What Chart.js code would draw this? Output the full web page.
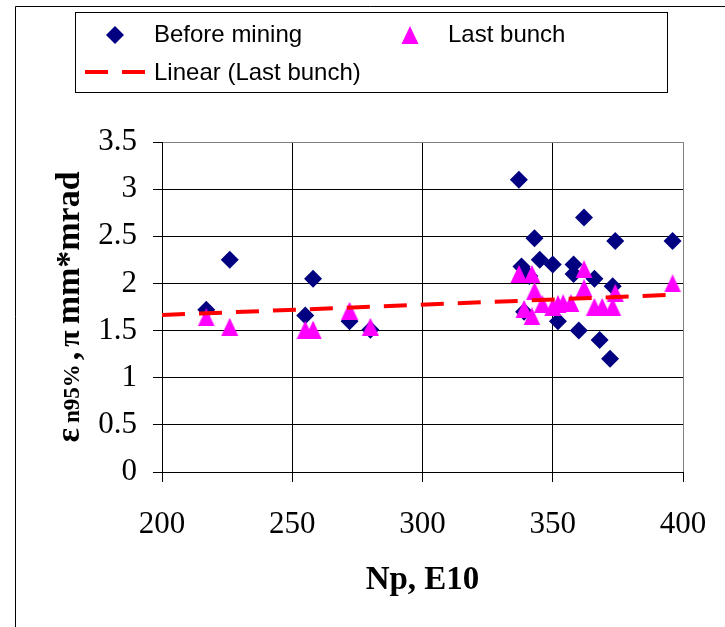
<!DOCTYPE html>
<html><head><meta charset="utf-8">
<script src="https://cdn.jsdelivr.net/npm/chart.js@4.4.1/dist/chart.umd.min.js"></script>
<style>html,body{margin:0;padding:0;background:#fff;overflow:hidden}#wrap{position:relative;width:725px;height:627px}</style>
</head><body><div id="wrap"><canvas id="c" width="725" height="627"></canvas></div>
<script>
// ---- data ----
const seriesNames = ['Before mining', 'Last bunch', 'Linear (Last bunch)'];
const beforeX = [217, 226, 255, 258, 272, 280, 337, 338, 339, 341, 343, 345, 350, 352, 358, 358, 360, 362, 366, 368, 372, 373, 374, 396];
const beforeY = [1.72, 2.25, 1.66, 2.05, 1.60, 1.51, 3.10, 2.18, 1.70, 2.08, 2.48, 2.25, 2.20, 1.60, 2.20, 2.10, 1.50, 2.70, 2.05, 1.40, 1.20, 1.97, 2.45, 2.45];
const lastX = [217, 226, 255, 258, 272, 280, 337, 339, 342, 342, 343, 346, 350, 352, 354, 357, 362, 362, 366, 369, 373, 374, 396];
const lastY = [1.64, 1.54, 1.51, 1.51, 1.71, 1.54, 2.10, 1.73, 2.10, 1.65, 1.92, 1.78, 1.75, 1.78, 1.79, 1.79, 2.15, 1.95, 1.75, 1.75, 1.75, 1.90, 2.00];
const trendX = [200, 396];
const trendY = [1.665, 1.88];
const xTickValues = [200, 250, 300, 350, 400];
const xTickLabels = ['200', '250', '300', '350', '400'];
const yTickValues = [0, 0.5, 1, 1.5, 2, 2.5, 3, 3.5];
const yTickLabels = ['0', '0.5', '1', '1.5', '2', '2.5', '3', '3.5'];
const xTitle = 'Np, E10';
const yTitleParts = ['ε', 'n95%', ',', 'π', 'mm*mrad'];

const pts = (xs, ys) => xs.map((x, i) => ({x: x, y: ys[i]}));
const NAVY = '#000080', MAG = '#FF00FF', RED = '#FF0000';
const SERIF = '"Liberation Serif", "Times New Roman", serif';

// triangle marker sprite (centred on its bounding box, like the reference)
const triSprite = document.createElement('canvas');
triSprite.width = 18; triSprite.height = 18;
(function () {
  const g = triSprite.getContext('2d');
  g.fillStyle = MAG;
  g.beginPath(); g.moveTo(9, 0); g.lineTo(17.5, 18); g.lineTo(0.5, 18); g.closePath(); g.fill();
})();

function drawDiamond(ctx, r, color, x, y) {
  ctx.save();
  ctx.fillStyle = color;
  if (Chart.helpers && Chart.helpers.drawPoint) {
    Chart.helpers.drawPoint(ctx, {pointStyle: 'rectRot', radius: r, borderWidth: 0, rotation: 0}, x, y);
  }
  ctx.restore();
}

const decor = {
  id: 'decor',
  beforeDraw(chart) {
    const ctx = chart.ctx;
    ctx.save();
    ctx.fillStyle = '#fff';
    ctx.fillRect(0, 0, chart.width, chart.height);
    ctx.strokeStyle = '#000';
    ctx.lineWidth = 1;
    ctx.beginPath();
    ctx.moveTo(15.5, 627); ctx.lineTo(15.5, 6.5); ctx.lineTo(725, 6.5);
    ctx.stroke();
    ctx.restore();
  },
  afterDraw(chart) {
    const ctx = chart.ctx;
    const area = chart.chartArea;
    // legend box
    ctx.save();
    ctx.strokeStyle = '#000'; ctx.lineWidth = 1;
    ctx.strokeRect(75.5, 12.5, 592, 80);
    drawDiamond(ctx, 9, NAVY, 115, 35);
    ctx.drawImage(triSprite, 401, 26);
    ctx.strokeStyle = RED; ctx.lineWidth = 4; ctx.setLineDash([23, 14]);
    ctx.beginPath(); ctx.moveTo(85, 72); ctx.lineTo(145, 72); ctx.stroke();
    ctx.setLineDash([]);
    ctx.fillStyle = '#000';
    ctx.font = '24px "Liberation Sans", Arial, sans-serif';
    ctx.textBaseline = 'middle'; ctx.textAlign = 'left';
    ctx.fillText(seriesNames[0], 154, 35);
    ctx.fillText(seriesNames[1], 448, 35);
    ctx.fillText(seriesNames[2], 154, 73);
    ctx.restore();
    // y axis title (mixed sizes), reads bottom to top
    ctx.save();
    const fonts = ['bold 34px ' + SERIF, 'bold 23px ' + SERIF, 'bold 34px ' + SERIF, 'bold 30px ' + SERIF, 'bold 34px ' + SERIF];
    const gaps = [5, 4, 5, 6, 0];
    let total = 0; const widths = [];
    yTitleParts.forEach((t, i) => { ctx.font = fonts[i]; const w = ctx.measureText(t).width; widths.push(w); total += w + gaps[i]; });
    const cy = (area.top + area.bottom) / 2;
    ctx.translate(79, cy);
    ctx.rotate(-Math.PI / 2);
    ctx.fillStyle = '#000'; ctx.textBaseline = 'alphabetic'; ctx.textAlign = 'left';
    let x = -total / 2;
    yTitleParts.forEach((t, i) => { ctx.font = fonts[i]; ctx.fillText(t, x, 0); x += widths[i] + gaps[i]; });
    ctx.restore();
  }
};

new Chart(document.getElementById('c'), {
  type: 'scatter',
  data: {
    datasets: [
      {label: seriesNames[2], data: pts(trendX, trendY), showLine: true, borderColor: RED, borderWidth: 4,
       borderDash: [23, 14], pointRadius: 0, fill: false, order: 0},
      {label: seriesNames[1], data: pts(lastX, lastY), pointStyle: triSprite, pointRadius: 9,
       backgroundColor: MAG, borderColor: MAG, borderWidth: 0, order: 1},
      {label: seriesNames[0], data: pts(beforeX, beforeY), pointStyle: 'rectRot', pointRadius: 9,
       backgroundColor: NAVY, borderColor: NAVY, borderWidth: 0, order: 2}
    ]
  },
  options: {
    responsive: false, animation: false, devicePixelRatio: 1,
    layout: {padding: {top: 142, right: 42, bottom: 0, left: 0}},
    plugins: {legend: {display: false}, tooltip: {enabled: false}},
    elements: {point: {hoverRadius: 9}},
    scales: {
      x: {
        type: 'linear', min: 200, max: 400,
        afterFit: s => { s.height = 155; },
        afterBuildTicks: s => { s.ticks = xTickValues.map(v => ({value: v})); },
        ticks: {
          callback: v => { const i = xTickValues.indexOf(v); return i >= 0 ? xTickLabels[i] : ''; },
          font: {family: SERIF, size: 31, lineHeight: 2},
          color: '#000', padding: 12, maxRotation: 0, autoSkip: false
        },
        grid: {
          color: c => (c.tick && c.tick.value === 400) ? '#808080' : '#000',
          lineWidth: 1, tickLength: 10, tickColor: '#000', drawTicks: true
        },
        border: {color: '#000', width: 1},
        title: {display: true, text: xTitle, color: '#000',
                font: {family: SERIF, size: 33, weight: 'bold'},
                padding: {top: 0, bottom: 27}}
      },
      y: {
        type: 'linear', min: 0, max: 3.5,
        afterFit: s => { s.width = 162; },
        afterBuildTicks: s => { s.ticks = yTickValues.map(v => ({value: v})); },
        ticks: {
          callback: v => { const i = yTickValues.indexOf(v); return i >= 0 ? yTickLabels[i] : ''; },
          font: {family: SERIF, size: 31},
          color: '#000', padding: 16, autoSkip: false
        },
        grid: {
          color: c => (c.tick && c.tick.value === 3.5) ? '#808080' : '#000',
          lineWidth: 1, tickLength: 9, tickColor: '#000', drawTicks: true
        },
        border: {color: '#000', width: 1}
      }
    }
  },
  plugins: [decor]
});
</script>
</body></html>
